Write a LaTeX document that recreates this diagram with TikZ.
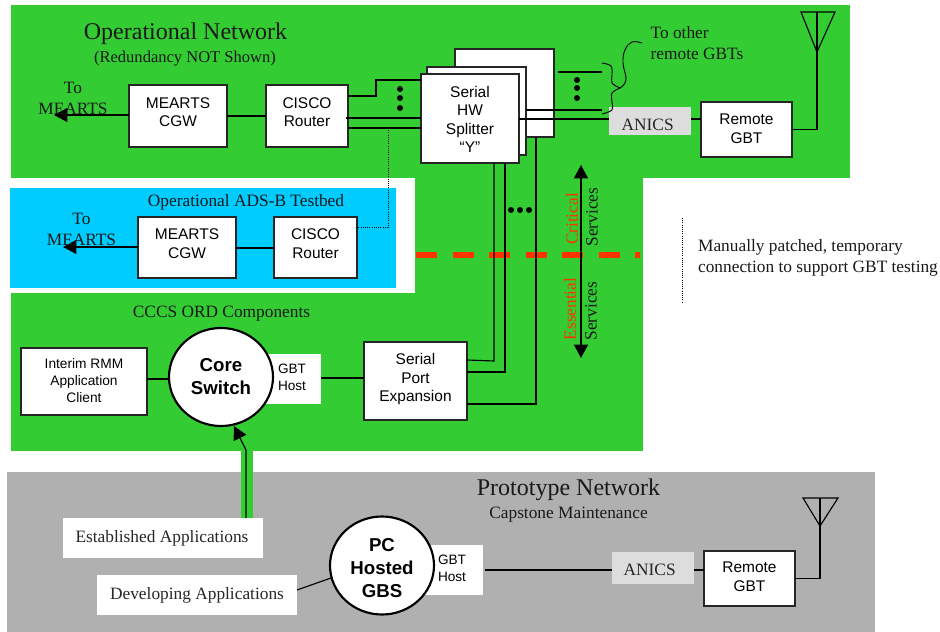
\documentclass[tikz,border=0pt]{standalone}
\usepackage{fontspec}
\setmainfont{Liberation Serif}
\newfontfamily\arialfont{Liberation Sans}
\usetikzlibrary{arrows.meta,shapes.geometric}
\definecolor{netgreen}{HTML}{33CC33}
\definecolor{netcyan}{HTML}{00CCFF}
\definecolor{netgrey}{HTML}{B0B0B0}
\definecolor{anicsgrey}{HTML}{DDDDDD}
\definecolor{cutred}{HTML}{FF3300}
\tikzset{
  x=0.75pt,y=-0.75pt,
  wire/.style={line width=0.85pt,black},
  arrowwire/.style={wire,-{Triangle[width=10.5pt,length=10pt]}},
  dotwire/.style={line width=0.6pt,black,dash pattern=on 0.75pt off 0.9pt},
  sz/.style 2 args={minimum width=#1*0.75pt,minimum height=#2*0.75pt,inner sep=0pt,outer sep=0pt},
  boxnode/.style={draw=black!85,fill=white,line width=1pt,align=center,
    font=\arialfont\fontsize{11.6}{13.9}\selectfont},
  smallbox/.style={boxnode,font=\arialfont\fontsize{10.3}{12.6}\selectfont},
  hostbox/.style={fill=white},
  hub/.style={ellipse,draw=black,fill=white,line width=1.6pt,align=center,
    font=\arialfont\bfseries\fontsize{14}{17.2}\selectfont},
  hosttext/.style={inner sep=0pt,align=center,font=\arialfont\fontsize{10.2}{12.8}\selectfont},
  anicsbox/.style={fill=anicsgrey,font=\fontsize{13}{15}\selectfont,text=black!85},
  appbox/.style={fill=white,font=\fontsize{13}{15}\selectfont,text=black!85},
  label13/.style={align=center,inner sep=0pt,font=\fontsize{13}{15.8}\selectfont,text=black!90},
  title18/.style={inner sep=0pt,font=\fontsize{18}{20}\selectfont,text=black!90},
  vertlabel/.style={rotate=90,inner sep=0pt,font=\fontsize{13}{15}\selectfont,text=black!90},
  redlabel/.style={vertlabel,text=cutred},
  dotfill/.style={fill=black}
}
\begin{document}
\begin{tikzpicture}
\useasboundingbox (0,0) rectangle (940,632);
% background regions
\fill[netgreen] (11,5) rectangle (850,178);
\fill[netgreen] (11,178) rectangle (643,451);
\fill[white] (0,178) rectangle (415,293);
\fill[netcyan] (10,188) rectangle (396,288);
\fill[netgrey] (7,472) rectangle (875,632);
\fill[netgreen] (241,451) rectangle (253,518);

% titles
\node[title18] (t1) at (185.5,34) {Operational Network};
\node[inner sep=0pt,font=\fontsize{12.4}{15}\selectfont,text=black!90] (t2) at (185,59) {(Redundancy NOT Shown)};
\node[label13] (t3) at (246,202) {Operational ADS-B Testbed};
\node[label13] (t4) at (221.5,314) {CCCS ORD Components};
\node[title18] (t5) at (568.5,490) {Prototype Network};
\node[label13] (t6) at (568.5,515) {Capstone Maintenance};
\node[label13,align=left] (t7) at (697,43) {To other\\remote GBTs};
\node[label13,align=left] (t8) at (818,258) {Manually patched, temporary\\connection to support GBT testing};

% operational boxes
\node[boxnode,sz={98}{62}] (cgwA) at (178,116) {MEARTS\\CGW\\[-7.9pt]\mbox{}};
\node[boxnode,sz={82}{62}] (ciscoA) at (307,116) {CISCO\\Router\\[-7.9pt]\mbox{}};
\node[boxnode,sz={99}{88}] (splitC) at (504.5,93) {};
\node[boxnode,sz={99}{88}] (splitB) at (476.5,111) {};
\node[boxnode,sz={98}{89}] (splitA) at (470,118.5) {\mbox{}\\[-4.4pt]Serial\\HW\\Splitter\\“Y”};
\node[anicsbox,sz={82}{28}] (anicsA) at (650,121) {\raisebox{-6.75pt}[0pt][0pt]{ANICS}\kern3.5pt};
\node[boxnode,sz={91}{55}] (gbtA) at (746.5,129.5) {Remote\\GBT\\[-12.4pt]\mbox{}};

% testbed boxes
\node[boxnode,sz={98}{61}] (cgwB) at (187,247.5) {MEARTS\\CGW\\[-7.9pt]\mbox{}};
\node[boxnode,sz={83}{61}] (ciscoB) at (315.5,247.5) {CISCO\\Router\\[-7.9pt]\mbox{}};

% CCCS boxes
\node[smallbox,sz={126}{67}] (rmm) at (84,381.5) {Interim RMM\\Application\\Client\\[-11.1pt]\mbox{}};
\node[hostbox,sz={56}{50}] (hostA) at (293,379) {};
\node[hub,sz={104}{98}] (core) at (221,377) {Core\\Switch};
\node[hosttext] (hostAt) at (292,377.5) {GBT\\Host};
\node[boxnode,sz={103}{78}] (spe) at (415.5,381) {Serial\\Port\\Expansion\\[-8.5pt]\mbox{}};

% prototype boxes
\node[appbox,sz={200}{40}] (est) at (163,538) {Established Applications\kern1.5pt};
\node[appbox,sz={200}{40}] (dev) at (197,595) {Developing Applications};
\node[hostbox,sz={58}{50}] (hostB) at (454,570) {};
\node[hub,sz={104}{98}] (pc) at (382,565.5) {\mbox{}\\[-3.4pt]PC\\Hosted\\GBS};
\node[hosttext] (hostBt) at (452,568.5) {GBT\\Host};
\node[anicsbox,sz={82}{32}] (anicsB) at (653,568) {\raisebox{-5.25pt}[0pt][0pt]{ANICS}\kern5pt};
\node[boxnode,sz={91}{55}] (gbtB) at (749.5,578.5) {Remote\\GBT\\[-11.4pt]\mbox{}};

% free-end coordinates
\coordinate (ciscoOutA) at (348,96);
\coordinate (elbowA) at (376,96);
\coordinate (elbowB) at (376,80);
\coordinate (splitInA) at (421,80);
\coordinate (ciscoOutB) at (346,118);
\coordinate (splitInB) at (421,118);
\coordinate (ciscoOutC) at (348,128);
\coordinate (splitInC) at (421,128);
\coordinate (tapTop) at (388,128);
\coordinate (tapElbow) at (388,227);
\coordinate (tapEnd) at (358,227);
\coordinate (otherTopA) at (558,72);
\coordinate (otherTopB) at (602,72);
\coordinate (otherLowA) at (526,110);
\coordinate (otherLowB) at (602,110);
\coordinate (splitOut) at (519,119);
\coordinate (anicsIn) at (609,119);
\coordinate (mearA) at (54,115);
\coordinate (mearB) at (63,247);
\coordinate (cgwLine) at (250,248);
\coordinate (antAtop) at (817,12);
\coordinate (antBtop) at (820,498);
\coordinate (v1t) at (494,163);
\coordinate (v1b) at (494,361);
\coordinate (v1l) at (467,360);
\coordinate (v2t) at (505,163);
\coordinate (v2b) at (505,372);
\coordinate (v2l) at (467,372);
\coordinate (v3t) at (536,137);
\coordinate (v3b) at (536,404);
\coordinate (v3l) at (467,404);
\coordinate (estUp) at (246,518);
\coordinate (estBend) at (246,450);
\coordinate (coreTip) at (234,426);
\coordinate (devOut) at (297,590);
\coordinate (pcIn) at (331,578);
\coordinate (hostBOut) at (485,570);
\coordinate (rmmLine) at (150,379);
\coordinate (hostLine) at (330,378);

% connectors
\draw[arrowwire] (cgwA.west |- mearA) -- (mearA);
\draw[wire] (cgwA) -- (ciscoA);
\draw[wire] (ciscoOutA) -- (elbowA) -- (elbowB) -- (splitInA);
\draw[wire] (ciscoOutB) -- (splitInB);
\draw[wire] (ciscoOutC) -- (splitInC);
\draw[wire] (otherTopA) -- (otherTopB);
\draw[wire] (otherLowA) -- (otherLowB);
\draw[wire] (splitOut) -- (anicsIn);
\draw[wire] (anicsA.east |- anicsIn) -- (gbtA.west |- anicsIn);
\draw[wire] (gbtA.east) -- (antAtop |- gbtA.east) -- (antAtop);
\draw[wire,line join=miter] (801,12) -- (835,12) -- (817,52) -- cycle;
\draw[arrowwire] (cgwB.west |- mearB) -- (mearB);
\draw[wire] (cgwB.east |- cgwLine) -- (ciscoB.west |- cgwLine);
\draw[dotwire] (tapTop) -- (tapElbow) -- (tapEnd);
\draw[dotwire] (682,218) -- (682,302);
\draw[wire] (rmm.east |- rmmLine) -- (core.west |- rmmLine);
\draw[wire] (hostA.east |- hostLine) -- (spe.west |- hostLine);

% critical / essential divider
\draw[cutred,line width=4.6pt,dash pattern=on 15.8pt off 11.6pt] (416,255) -- (640,255);
\draw[wire] (v1t) -- (v1b) -- (v1l);
\draw[wire] (v2t) -- (v2b) -- (v2l);
\draw[wire] (v3t) -- (v3b) -- (v3l);
\draw[wire,{Triangle[width=10.5pt,length=10pt]}-{Triangle[width=10.5pt,length=10pt]}] (581,165) -- (581,358);
\node[redlabel] (crit) at (572,219) {Critical};
\node[vertlabel] (servA) at (592,217) {Services};
\node[redlabel] (ess) at (570,309) {Essential};
\node[vertlabel] (servB) at (591,311) {Services};

% other-GBT brace
\draw[wire,line width=0.7pt] plot[smooth,tension=0.6] coordinates {(602,63) (611,66) (612,75) (612,83) (620,88)};
\draw[wire,line width=0.7pt] plot[smooth,tension=0.6] coordinates {(620,88) (612,93) (612,102) (612,110) (602,114)};
\draw[wire,line width=0.7pt] plot[smooth,tension=0.7] coordinates {(642,43) (632,42) (625,50) (623,63) (626,80) (620,88)};

% ellipsis dots
\foreach \yy in {89,98,108} \fill[dotfill] (400,\yy) circle[radius=3];
\foreach \yy in {80,88,98} \fill[dotfill] (577,\yy) circle[radius=3];
\foreach \xx in {511,520,529} \fill[dotfill] (\xx,210) circle[radius=3];

% to MEARTS labels
\node[label13] (toA) at (73,98.5) {To\\MEARTS};
\node[label13] (toB) at (81.5,229.5) {To\\MEARTS};

% prototype connectors
\draw[arrowwire] (estUp) -- (estBend) -- (coreTip);
\draw[wire] (devOut) -- (pcIn);
\draw[wire] (hostBOut) -- (anicsB.west |- hostBOut);
\draw[wire] (anicsB.east |- hostBOut) -- (gbtB.west |- hostBOut);
\draw[wire] (gbtB.east) -- (antBtop |- gbtB.east) -- (antBtop);
\draw[wire,line join=miter] (803,498) -- (838,498) -- (820,526) -- cycle;
\end{tikzpicture}
\end{document}
